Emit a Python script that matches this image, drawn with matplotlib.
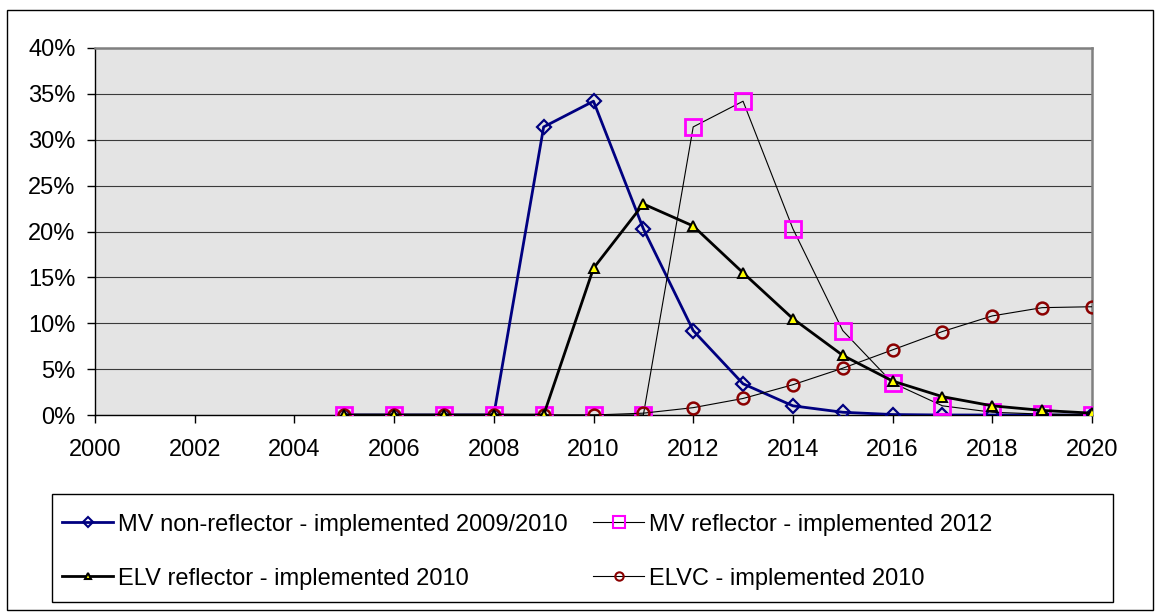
import numpy as np
import matplotlib
matplotlib.use("Agg")
import matplotlib.pyplot as plt
from matplotlib.patches import Rectangle
from matplotlib.lines import Line2D
from matplotlib.ticker import FuncFormatter

plt.rcParams['font.family'] = ['Liberation Sans', 'DejaVu Sans']

W, H = 1155, 612

years = list(range(2005, 2021))

# share of vehicles per year (%)
mv_non_reflector = [0, 0, 0, 0, 31.4, 34.2, 20.3, 9.2, 3.4, 1.0, 0.3, 0.05, 0, 0, 0, 0]
mv_reflector = [0, 0, 0, 0, 0, 0, 0, 31.4, 34.2, 20.3, 9.2, 3.5, 1.0, 0.3, 0.1, 0]
elv_reflector = [0, 0, 0, 0, 0, 16.0, 23.0, 20.6, 15.5, 10.5, 6.5, 3.7, 2.0, 1.0, 0.5, 0.2]
elvc = [0, 0, 0, 0, 0, 0, 0.2, 0.8, 1.8, 3.3, 5.1, 7.1, 9.1, 10.8, 11.7, 11.8]

labels = ['MV non-reflector - implemented 2009/2010',
          'MV reflector - implemented 2012',
          'ELV reflector - implemented 2010',
          'ELVC - implemented 2010']


def fx(px):
    return px / W


def fy(py):
    return 1 - py / H


fig = plt.figure(figsize=(W / 100, H / 100), dpi=100)
ax = fig.add_axes([fx(95), fy(415), (1092 - 95) / W, (415 - 48) / H])

# outer chart border
fig.patches.append(Rectangle((fx(7), fy(610)), (1153 - 7) / W, 600 / H,
                             transform=fig.transFigure, fill=False,
                             edgecolor='black', lw=1.0))

ax.set_facecolor('#e4e4e4')
ax.set_axisbelow(True)
ax.grid(axis='y', color='#3a3a3a', lw=0.8)

styles = [
    dict(color='#000080', lw=2, marker='D', ms=7.5, mfc='none', mec='#000080', mew=1.6, zorder=3),
    dict(color='black', lw=0.8, marker='s', ms=11, mfc='none', mec='#ff00ff', mew=2, zorder=4),
    dict(color='black', lw=2, marker='^', ms=6.5, mfc='#ffff00', mec='black', mew=1.4, zorder=6),
    dict(color='black', lw=0.8, marker='o', ms=8.5, mfc='none', mec='#8b0000', mew=1.8, zorder=5),
]
series = [mv_non_reflector, mv_reflector, elv_reflector, elvc]

for vals, st in zip(series, styles):
    ax.plot(years, vals, **st)

ax.set_xlim(2000, 2020)
ax.set_ylim(0, 40)
ax.set_xticks(range(2000, 2021, 2))
ax.set_yticks(range(0, 41, 5))
ax.yaxis.set_major_formatter(FuncFormatter(lambda v, p: f'{v:.0f}%'))
ax.tick_params(axis='both', labelsize=17, direction='out', length=6, width=1)
ax.tick_params(axis='y', pad=8)
ax.tick_params(axis='x', pad=11)

for side in ['top', 'right']:
    ax.spines[side].set_color('#808080')
    ax.spines[side].set_linewidth(1.8)
for side in ['left', 'bottom']:
    ax.spines[side].set_color('black')
    ax.spines[side].set_linewidth(1)

# legend box, drawn by hand to keep Excel's layout
fig.patches.append(Rectangle((fx(52), fy(602)), (1113 - 52) / W, (602 - 494) / H,
                             transform=fig.transFigure, fill=False,
                             edgecolor='black', lw=1.0))

leg_pos = [(62, 522), (593, 522), (62, 576), (593, 576)]
leg_ms = [5.5, 9, 5, 6]
for (x0, yc), lab, st, ms in zip(leg_pos, labels, styles, leg_ms):
    fig.add_artist(Line2D([fx(x0), fx(x0 + 51)], [fy(yc), fy(yc)],
                          transform=fig.transFigure, color=st['color'], lw=st['lw']))
    fig.add_artist(Line2D([fx(x0 + 25.5)], [fy(yc)], transform=fig.transFigure,
                          marker=st['marker'], ms=ms, mfc=st['mfc'], mec=st['mec'],
                          mew=1.5, lw=0))
    fig.text(fx(x0 + 56), fy(yc + 9), lab, fontsize=17, va='baseline', ha='left')

fig.savefig('out.png', dpi=100)
